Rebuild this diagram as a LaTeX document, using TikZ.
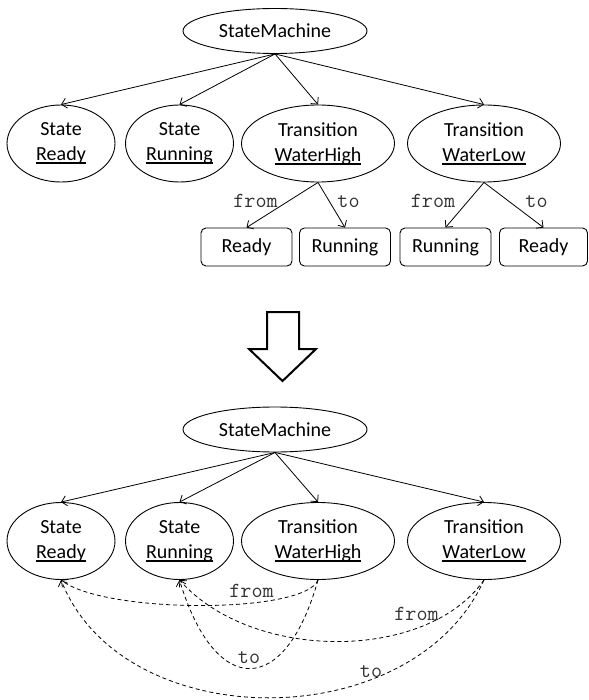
\documentclass[tikz,border=0pt]{standalone}
\usepackage{fontspec}
\setmainfont{Carlito}
\usetikzlibrary{shapes.geometric,arrows.meta}
\newcommand\myul[1]{\leavevmode\setbox0\hbox{#1}\rlap{\rule[-3.5pt]{\wd0}{2pt}}\box0}
\begin{document}
\begin{tikzpicture}[x=1pt,y=-1pt,
  every node/.style={font=\fontsize{20}{25}\selectfont},
  ell/.style={draw,ellipse,line width=0.9pt,inner sep=0pt,align=center},
  smell/.style={ell,minimum width=184pt,minimum height=45pt},
  stell/.style={ell,minimum width=108pt,minimum height=77pt},
  trell/.style={ell,minimum width=153pt,minimum height=77pt},
  refbox/.style={draw,rounded corners=5pt,line width=0.9pt,minimum width=91pt,minimum height=38pt,inner sep=0pt},
  lbl/.style={font=\ttfamily\fontsize{21.5}{24}\selectfont,text=black!80,inner sep=0pt,anchor=base},
  arr/.style={line width=0.8pt,-{Straight Barb[length=5pt,width=10pt]}},
  darr/.style={arr,dash pattern=on 4pt off 3pt}]
\useasboundingbox (0,0) rectangle (588,700);

% ---------- top tree ----------
\node[smell] (sm1) at (275,31) {StateMachine};
\node[stell] (r1) at (61,143.5) {State\\\myul{Ready}};
\node[stell] (u1) at (179.5,143.5) {State\\\myul{Running}};
\node[trell] (h1) at (318,143.5) {Transition\\\myul{WaterHigh}};
\node[trell] (l1) at (484,143.5) {Transition\\\myul{WaterLow}};

\node[refbox] (b1) at (246.5,247) {Ready};
\node[refbox] (b2) at (345,247) {Running};
\node[refbox] (b3) at (445.5,247) {Running};
\node[refbox,minimum width=88pt] (b4) at (543.5,247) {Ready};

\draw[arr] (sm1.south) -- (r1.north);
\draw[arr] (sm1.south) -- (u1.north);
\draw[arr] (sm1.south) -- (h1.north);
\draw[arr] (sm1.south) -- (l1.north);

\draw[arr] (h1.south) -- (b1.north);
\draw[arr] (h1.south) -- (b2.north);
\draw[arr] (l1.south) -- (b3.north);
\draw[arr] (l1.south) -- (b4.north);

\node[lbl] (f1) at (255.5,208) {from};
\node[lbl] (t1) at (348.5,208) {to};
\node[lbl] (f2) at (433,208) {from};
\node[lbl] (t2) at (536.5,208) {to};

% ---------- hollow arrow ----------
\draw[line width=2pt,line join=miter] (267,312) -- (299,312) -- (299,349) -- (316,349)
  -- (282.5,381) -- (249,349) -- (267,349) -- cycle;

% ---------- bottom tree ----------
\node[smell] (sm2) at (275,429.5) {StateMachine};
\node[stell] (r2) at (61,541) {State\\\myul{Ready}};
\node[stell] (u2) at (179.5,541) {State\\\myul{Running}};
\node[trell] (h2) at (318,541) {Transition\\\myul{WaterHigh}};
\node[trell] (l2) at (484,541) {Transition\\\myul{WaterLow}};

\draw[arr] (sm2.south) -- (r2.north);
\draw[arr] (sm2.south) -- (u2.north);
\draw[arr] (sm2.south) -- (h2.north);
\draw[arr] (sm2.south) -- (l2.north);

\draw[darr] (h2.south) .. controls (305,614) and (105,614) .. (r2.south);
\draw[darr] (h2.south) .. controls (285,698) and (215,698) .. (u2.south);
\draw[darr] (l2.south) .. controls (427,662) and (252,662) .. (u2.south);
\draw[darr] (l2.south) .. controls (413,737) and (123,737) .. (r2.south);

\node[lbl] (f3) at (251.5,597) {from};
\node[lbl] (t3) at (249,663) {to};
\node[lbl] (f4) at (416.5,620) {from};
\node[lbl] (t4) at (371,677) {to};
\end{tikzpicture}
\end{document}
